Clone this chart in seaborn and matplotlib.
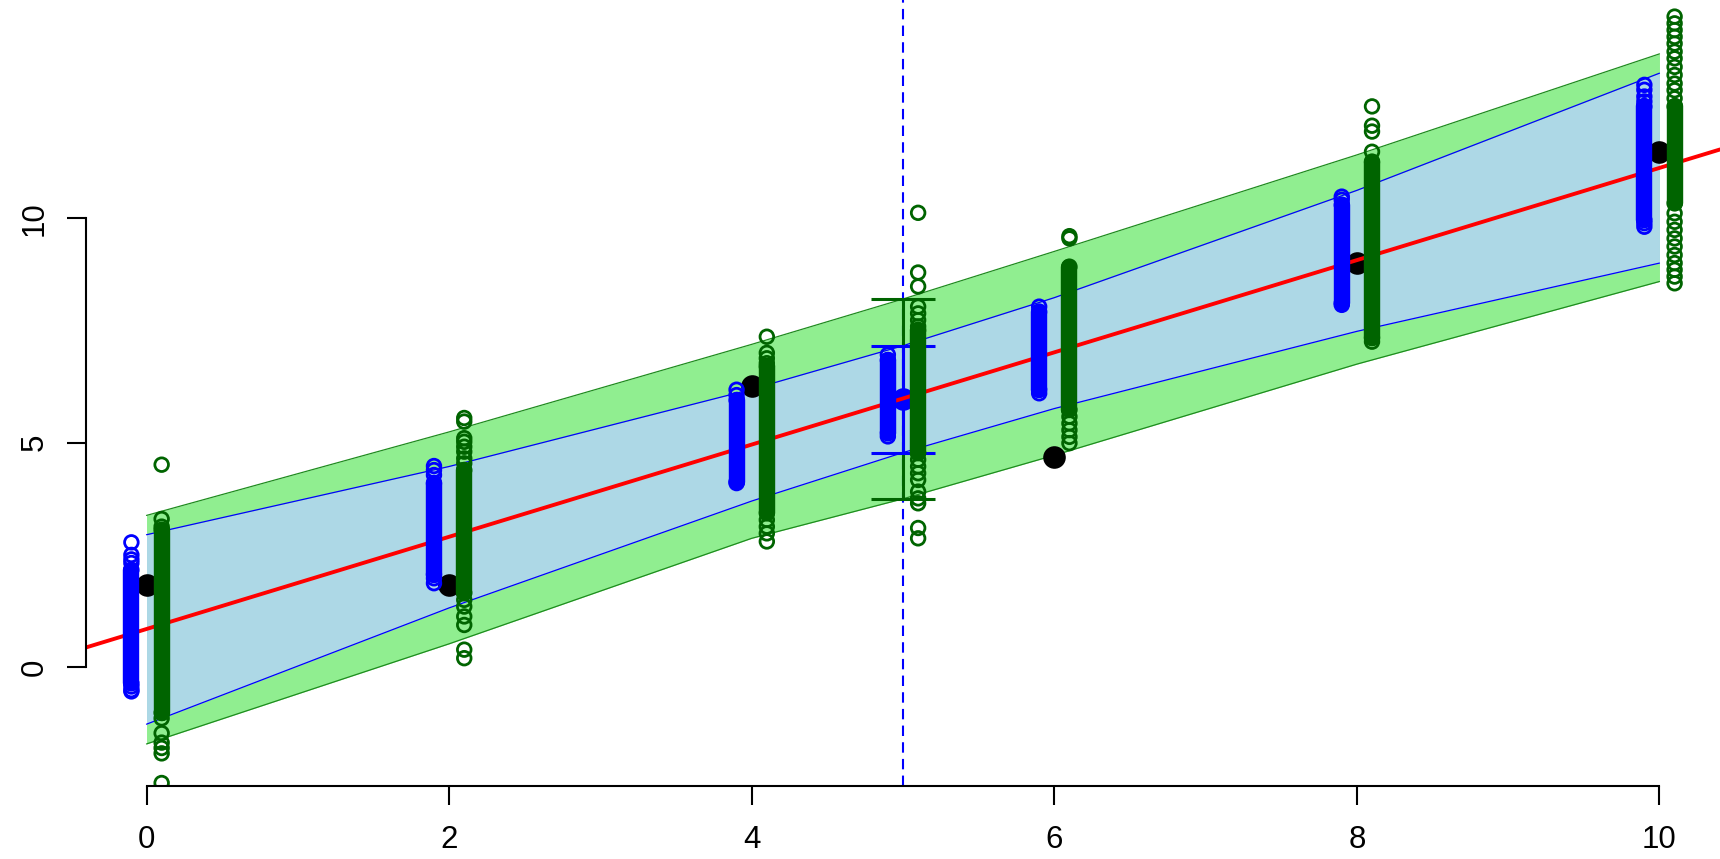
import numpy as np
import pandas as pd
import matplotlib
matplotlib.use("Agg")
import matplotlib.pyplot as plt
import seaborn as sns

# ---- observed data -------------------------------------------------------
obs_x = [0, 2, 4, 6, 8, 10]
obs_y = [1.82, 1.83, 6.27, 4.68, 9.01, 11.48]

# fitted line
fit_intercept = 0.85
fit_slope = 1.027

# ---- interval bands (confidence = blue, prediction = green) -------------
band_x = [0, 2, 4, 5, 6, 8, 10]
ci_hi = [2.95, 4.47, 6.19, 7.16, 8.23, 10.62, 13.23]
ci_lo = [-1.27, 1.32, 3.70, 4.78, 5.76, 7.48, 9.00]
pi_hi = [3.38, 5.24, 7.19, 8.20, 9.26, 11.41, 13.66]
pi_lo = [-1.71, 0.52, 2.87, 3.75, 4.72, 6.75, 8.59]

# ---- new point at x = 5 --------------------------------------------------
new_x = 5
new_fit = 5.97
new_ci = (4.78, 7.16)
new_pi = (3.75, 8.20)

# ---- simulated draws: mean (blue, left of x) and prediction (green, right)
sim_x = [0, 2, 4, 5, 6, 8, 10]
mean_core_lo = [-0.36, 2.06, 4.13, 5.21, 6.18, 8.11, 9.96]
mean_core_hi = [2.17, 4.10, 5.95, 6.84, 7.92, 10.30, 12.49]
mean_tails = [
    [2.78, 2.50, 2.40, 2.32, -0.43, -0.51, -0.54],
    [4.48, 4.39, 4.28, 1.98, 1.87],
    [6.18, 6.06, 4.10],
    [6.96, 5.14],
    [8.03, 6.10],
    [10.48, 10.41, 8.07],
    [12.97, 12.86, 12.71, 12.60, 9.89, 9.81],
]
pred_core_lo = [-1.02, 1.65, 3.43, 4.77, 5.73, 7.33, 10.33]
pred_core_hi = [3.06, 4.39, 6.70, 7.51, 8.92, 11.26, 12.49]
pred_tails = [
    [4.51, 3.30, 3.13, -1.14, -1.47, -1.68, -1.80, -1.92, -2.58],
    [5.55, 5.47, 5.10, 5.02, 4.91, 4.80, 4.65, 4.54,
     1.50, 1.35, 1.13, 0.94, 0.39, 0.20],
    [7.36, 7.00, 6.88, 6.77, 3.28, 3.13, 2.98, 2.80],
    [10.12, 8.79, 8.48, 8.03, 7.88, 7.73, 7.59,
     4.62, 4.47, 4.32, 4.17, 3.91, 3.76, 3.65, 3.10, 2.87],
    [9.60, 9.55, 5.58, 5.43, 5.28, 5.13, 4.99],
    [12.49, 12.06, 11.93, 11.48, 7.25],
    [14.49, 14.34, 14.19, 14.04, 13.89, 13.71, 13.56, 13.37, 13.19, 13.00,
     12.85, 12.67, 10.11, 9.92, 9.74, 9.55, 9.37, 9.18, 9.00, 8.85, 8.70, 8.55],
]
x_offset = 0.1

x_ticks = [0, 2, 4, 6, 8, 10]
y_ticks = [0, 5, 10]

# ---- style ---------------------------------------------------------------
sns.set_style("ticks")
plt.rcParams["font.family"] = ["Liberation Sans", "DejaVu Sans"]

BLUE = "#0000FF"
DGREEN = "#006400"
BAND_GREEN = "#90EE90"
BAND_BLUE = "#ADD8E6"
EDGE_GREEN = "#1E8C1E"

fig = plt.figure(figsize=(17.2, 8.59), dpi=100)
ax = fig.add_axes([86 / 1720, 73.3 / 859, 1 - 86 / 1720, 1 - 73.3 / 859])
ax.set_xlim(-0.4, 10.4)
ax.set_ylim(-2.64, 14.86)

# bands
ax.fill_between(band_x, pi_lo, pi_hi, color=BAND_GREEN, lw=0, zorder=1)
ax.fill_between(band_x, ci_lo, ci_hi, color=BAND_BLUE, lw=0, zorder=1.1)
band_df = pd.DataFrame({"x": band_x, "ci_hi": ci_hi, "ci_lo": ci_lo,
                        "pi_hi": pi_hi, "pi_lo": pi_lo})
for col, c in [("pi_hi", EDGE_GREEN), ("pi_lo", EDGE_GREEN),
               ("ci_hi", BLUE), ("ci_lo", BLUE)]:
    sns.lineplot(data=band_df, x="x", y=col, color=c, lw=0.9, ax=ax,
                 zorder=1.2, estimator=None, sort=False)

# vertical reference at the new x
ax.axvline(new_x, color=BLUE, lw=1.5, ls=(0, (5, 3)), zorder=1.3)

# observed points
DOT = 265
sns.scatterplot(x=obs_x, y=obs_y, color="black", s=DOT, linewidth=0,
                ax=ax, zorder=2)

# intervals at the new x
cap = 0.21
ax.vlines(new_x, *new_pi, color=DGREEN, lw=2.2, zorder=2.1)
ax.hlines(list(new_pi), new_x - cap, new_x + cap, color=DGREEN, lw=2.2, zorder=2.1)
ax.vlines(new_x, *new_ci, color=BLUE, lw=2.2, zorder=2.2)
ax.hlines(list(new_ci), new_x - cap, new_x + cap, color=BLUE, lw=2.2, zorder=2.2)

# fitted value at the new x
sns.scatterplot(x=[new_x], y=[new_fit], color=BLUE, s=DOT, linewidth=0,
                ax=ax, zorder=2.3)

# fitted line
ax.axline((0, fit_intercept), slope=fit_slope, color="red", lw=2.8, zorder=2.4)

# simulated draws
MS = 96           # circle marker area (pt^2)
RING_LW = 2.0     # circle outline width (pt)
CORE_LW = 11.8    # width of the dense core (pt)


def draw_column(xpos, lo, hi, tails, color, z):
    ax.plot([xpos, xpos], [lo, hi], color=color, lw=CORE_LW,
            solid_capstyle="round", zorder=z)
    ys = [lo, hi] + list(tails)
    sns.scatterplot(x=[xpos] * len(ys), y=ys, s=MS, marker="o",
                    facecolor="none", edgecolor=color, linewidth=RING_LW,
                    ax=ax, zorder=z)


for i, xv in enumerate(sim_x):
    draw_column(xv - x_offset, mean_core_lo[i], mean_core_hi[i],
                mean_tails[i], BLUE, 3)
for i, xv in enumerate(sim_x):
    draw_column(xv + x_offset, pred_core_lo[i], pred_core_hi[i],
                pred_tails[i], DGREEN, 3.5)

# axes in base-graphics style
for s in ("top", "right"):
    ax.spines[s].set_visible(False)
ax.spines["left"].set_bounds(0, 10)
ax.spines["bottom"].set_bounds(0, 10)
for s in ("left", "bottom"):
    ax.spines[s].set_linewidth(1.5)
    ax.spines[s].set_color("black")
    ax.spines[s].set_zorder(5)
ax.set_xticks(x_ticks)
ax.set_yticks(y_ticks)
ax.set_xticklabels([str(t) for t in x_ticks])
ax.set_yticklabels([str(t) for t in y_ticks], rotation=90, va="center")
ax.tick_params(axis="both", length=14, width=1.5, labelsize=22.5,
               colors="black")
ax.tick_params(axis="x", pad=14)
ax.tick_params(axis="y", pad=12)
ax.set_xlabel("")
ax.set_ylabel("")
ax.set_facecolor("white")
fig.patch.set_facecolor("white")

fig.savefig("out.png", dpi=100)
